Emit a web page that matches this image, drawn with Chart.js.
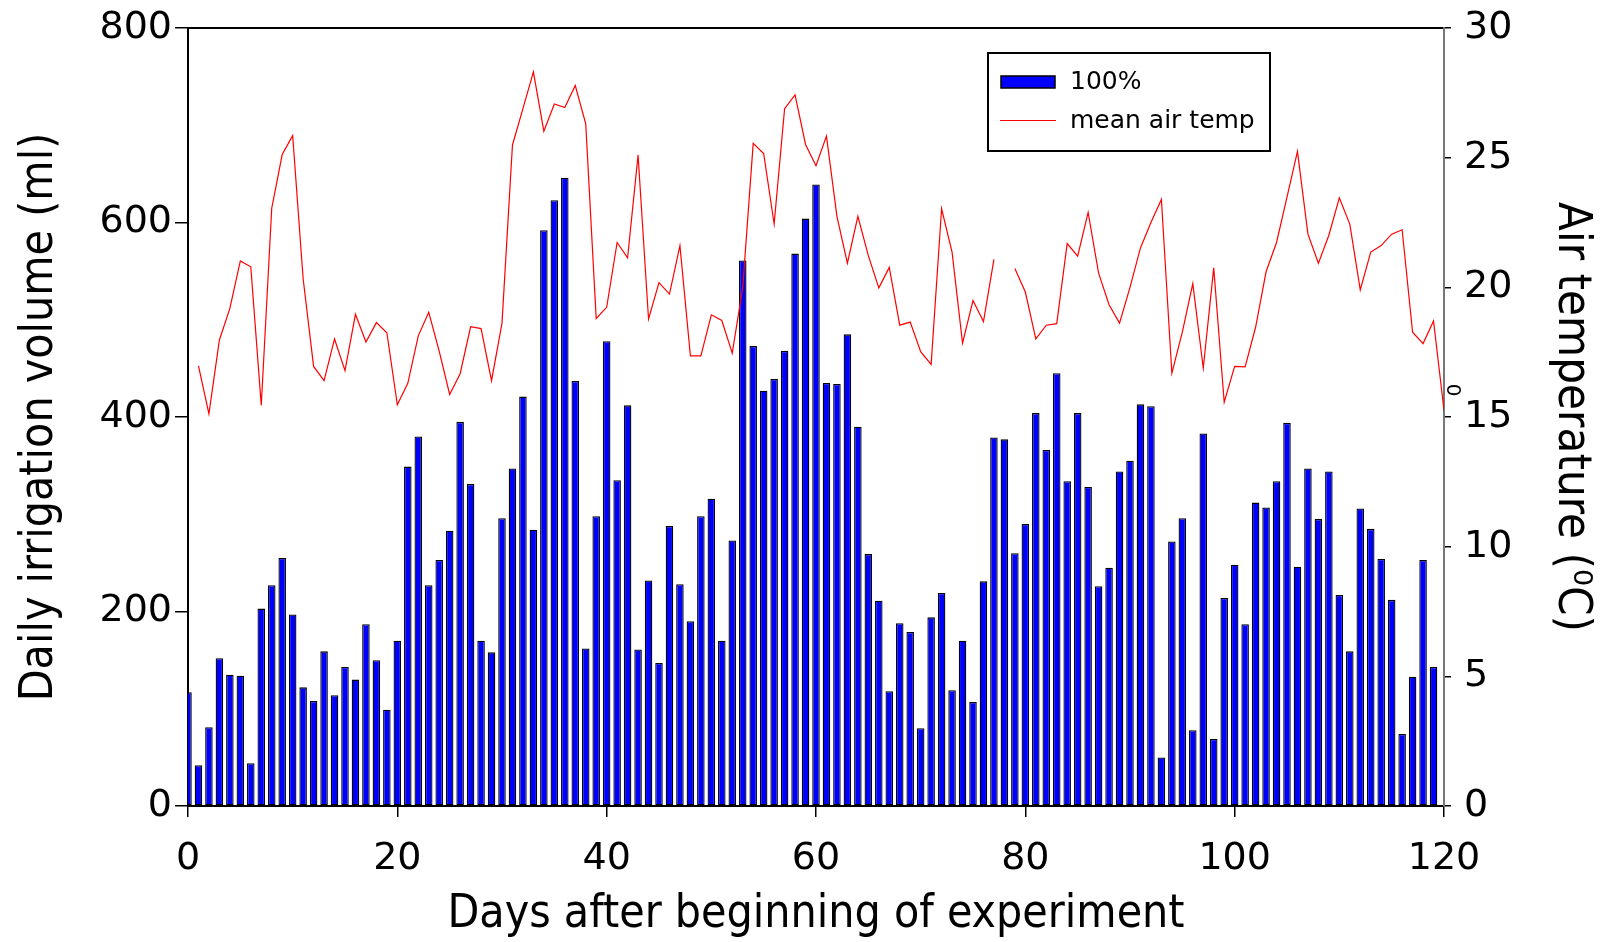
<!DOCTYPE html>
<html><head><meta charset="utf-8">
<script src="https://cdn.jsdelivr.net/npm/chart.js@4.4.1/dist/chart.umd.min.js"></script>
<style>html,body{margin:0;padding:0;background:#fff;} #wrap{width:1609px;height:942px;}</style>
</head><body><div id="wrap"><canvas id="c" width="1609" height="942"></canvas></div>
<script>
// ---- data ----
const days = [0,1,2,3,4,5,6,7,8,9,10,11,12,13,14,15,16,17,18,19,20,21,22,23,24,25,26,27,28,29,30,31,32,33,34,35,36,37,38,39,40,41,42,43,44,45,46,47,48,49,50,51,52,53,54,55,56,57,58,59,60,61,62,63,64,65,66,67,68,69,70,71,72,73,74,75,76,77,78,79,80,81,82,83,84,85,86,87,88,89,90,91,92,93,94,95,96,97,98,99,100,101,102,103,104,105,106,107,108,109,110,111,112,113,114,115,116,117,118,119,120];
const irrigation = [117,42,81,152,135,134,44,203,227,255,197,122,108,159,114,143,130,187,150,99,
  170,349,380,227,253,283,395,331,170,158,296,347,421,284,592,623,646,437,162,298,
  478,335,412,161,232,147,288,228,190,298,316,170,273,561,473,427,439,468,568,604,
  639,435,434,485,390,259,211,118,188,179,80,194,219,119,170,107,231,379,377,260,
  290,404,366,445,334,404,328,226,245,344,355,413,411,50,272,296,78,383,69,214,
  248,187,312,307,334,394,246,347,295,344,217,159,306,285,254,212,74,133,253,143];
const airTemp = [null,16.97,15.12,17.97,19.19,21.02,20.79,15.45,23.05,25.12,25.85,20.33,16.95,16.40,18.01,16.79,18.96,17.89,18.64,18.25,
  15.47,16.30,18.13,19.04,17.54,15.87,16.67,18.48,18.41,16.40,18.62,25.49,26.89,28.31,26.02,27.07,26.93,27.78,26.30,18.80,
  19.23,21.73,21.14,25.10,18.78,20.18,19.74,21.61,17.36,17.36,18.94,18.72,17.46,20.0,25.55,25.16,22.44,26.89,27.42,25.51,
  24.69,25.83,22.74,20.93,22.74,21.22,19.98,20.77,18.54,18.66,17.52,17.03,23.03,21.36,17.85,19.49,18.68,21.08,null,20.73,
  19.82,18.01,18.54,18.60,21.69,21.20,22.89,20.55,19.33,18.62,20.00,21.52,22.50,23.39,16.69,18.27,20.14,16.89,20.75,15.57,
  16.95,16.93,18.46,20.6,21.73,23.48,25.24,22.05,20.93,22.01,23.45,22.44,19.90,21.36,21.61,22.05,22.22,18.27,17.83,18.70,
  15.26];
const xTickValues = [0,20,40,60,80,100,120];
const leftTickValues = [0,200,400,600,800];
const rightTickValues = [0,5,10,15,20,25,30];
const seriesLabels = ['100%','mean air temp'];
const xTitle = 'Days after beginning of experiment';
const yTitle = 'Daily irrigation volume (ml)';
const y2Title = 'Air temperature (\u2070C)';
const strayMark = '0';

// ---- styling ----
const TICK_FONT = {family:"'DejaVu Sans', sans-serif", size:38};
const TITLE_FAMILY = "'DejaVu Sans Condensed','Liberation Sans Narrow','Liberation Sans',sans-serif";
const LEGEND_FONT = "25px 'DejaVu Sans', sans-serif";

const barData = irrigation.map((v,i)=>({x:days[i], y:v}));
const lineData = airTemp.map((v,i)=>({x:days[i], y:v}));

function noPad(s){ s.paddingTop=0; s.paddingBottom=0; s.paddingLeft=0; s.paddingRight=0; }

const extrasPlugin = {
  id:'extras',
  afterDraw(chart){
    const ctx = chart.ctx;
    ctx.save();
    // legend box
    const bx=988, by=53, bw=282, bh=98;
    ctx.fillStyle='#fff'; ctx.fillRect(bx,by,bw,bh);
    ctx.lineWidth=2; ctx.strokeStyle='#000'; ctx.strokeRect(bx,by,bw,bh);
    const ds = chart.data.datasets;
    // bar swatch
    ctx.fillStyle=ds[0].backgroundColor; ctx.fillRect(1001,76,54,12);
    ctx.lineWidth=1.5; ctx.strokeStyle='#000'; ctx.strokeRect(1001,76,54,12);
    // line swatch
    ctx.strokeStyle=ds[1].borderColor; ctx.lineWidth=1; ctx.beginPath(); ctx.moveTo(1000,120.5); ctx.lineTo(1056,120.5); ctx.stroke();
    ctx.fillStyle='#000'; ctx.font=LEGEND_FONT; ctx.textBaseline='middle'; ctx.textAlign='left';
    ctx.fillText(ds[0].label, 1070, 82);
    ctx.fillText(ds[1].label, 1070, 121);
    // stray superscript mark near right axis
    ctx.translate(1452, 390); ctx.rotate(Math.PI/2);
    ctx.font="20px 'DejaVu Sans', sans-serif"; ctx.textAlign='center'; ctx.textBaseline='middle';
    ctx.fillText(strayMark, 0, 0);
    ctx.restore();
  }
};

new Chart(document.getElementById('c'), {
  data:{
    datasets:[
      {type:'bar', label:seriesLabels[0], data:barData, xAxisID:'x', yAxisID:'y',
       backgroundColor:'#0000ff', borderColor:'#000', borderWidth:1.3, borderSkipped:false,
       categoryPercentage:1, barPercentage:0.72, order:1},
      {type:'line', label:seriesLabels[1], data:lineData, xAxisID:'x', yAxisID:'y2',
       borderColor:'#ff0000', borderWidth:1.2, pointRadius:0, tension:0, spanGaps:false, fill:false, order:0}
    ]
  },
  options:{
    responsive:false, devicePixelRatio:1, animation:false,
    layout:{padding:0},
    plugins:{legend:{display:false}, tooltip:{enabled:false}},
    scales:{
      x:{type:'linear', position:'bottom', min:0, max:120, offset:false,
        afterBuildTicks:s=>{s.ticks = xTickValues.map(v=>({value:v}));},
        ticks:{font:TICK_FONT, color:'#000', padding:19, maxRotation:0, autoSkip:false},
        grid:{display:true, offset:false, drawOnChartArea:false, drawTicks:true, tickLength:11, color:'#000', lineWidth:1.5},
        border:{display:true, color:'#000', width:2},
        title:{display:true, text:xTitle, color:'#000', font:{family:TITLE_FAMILY, size:46, lineHeight:1}, padding:{top:0,bottom:4}},
        afterFit:s=>{s.height=136; noPad(s);}
      },
      xTop:{type:'linear', position:'top', min:0, max:120, offset:false,
        ticks:{display:false}, grid:{display:false},
        border:{display:true, color:'#000', width:2},
        afterFit:s=>{s.height=28; noPad(s);}
      },
      y:{type:'linear', position:'left', min:0, max:800,
        afterBuildTicks:s=>{s.ticks = leftTickValues.map(v=>({value:v}));},
        ticks:{font:TICK_FONT, color:'#000', padding:3},
        grid:{display:true, drawOnChartArea:false, drawTicks:true, tickLength:13, color:'#000', lineWidth:1.5},
        border:{display:true, color:'#000', width:2},
        title:{display:true, text:yTitle, color:'#000', font:{family:TITLE_FAMILY, size:46, lineHeight:1}, padding:{top:17,bottom:0}},
        afterFit:s=>{s.width=188; noPad(s);}
      },
      y2:{type:'linear', position:'right', min:0, max:30,
        afterBuildTicks:s=>{s.ticks = rightTickValues.map(v=>({value:v}));},
        ticks:{font:TICK_FONT, color:'#000', padding:13},
        grid:{display:true, drawOnChartArea:false, drawTicks:true, tickLength:7, color:'#000', lineWidth:1.5},
        border:{display:true, color:'#777', width:2},
        title:{display:true, text:y2Title, color:'#000', font:{family:TITLE_FAMILY, size:47, lineHeight:1}, padding:{top:14,bottom:0}},
        afterFit:s=>{s.width=165; noPad(s);}
      }
    }
  },
  plugins:[extrasPlugin]
});
</script>
</body></html>
